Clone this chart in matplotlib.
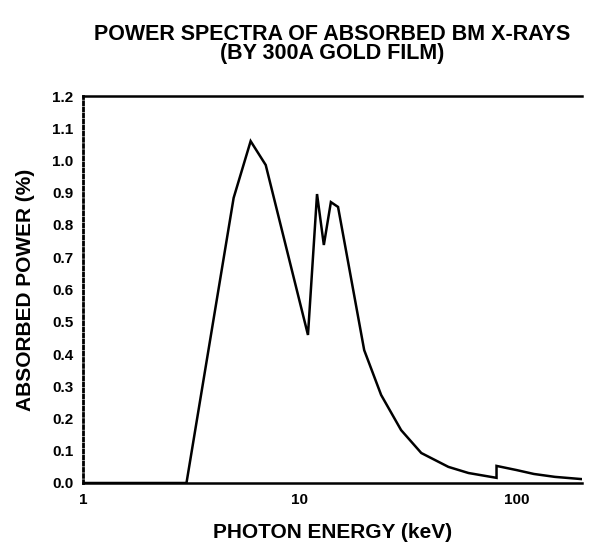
import matplotlib.pyplot as plt
import numpy as np

plt.rcParams['font.family'] = ['Liberation Sans', 'DejaVu Sans']

# photon energy (keV) and absorbed power (%)
energy = [1.0, 3.0, 4.95, 5.93, 6.96, 10.9, 12.0, 12.9, 13.9, 15.0, 19.8,
          23.7, 29.3, 36.3, 48.4, 59.9, 80.7, 80.7, 100.0, 120.0, 150.0, 200.0]
power = [0.0, 0.0, 0.884, 1.06, 0.986, 0.459, 0.896, 0.738, 0.871, 0.856, 0.412,
         0.273, 0.164, 0.093, 0.050, 0.031, 0.016, 0.053, 0.040, 0.028, 0.019, 0.012]

y_ticks = np.arange(0.0, 1.21, 0.1)
x_ticks = [1, 10, 100]
x_tick_labels = ['1', '10', '100']

fig = plt.figure(figsize=(5.96, 5.44), dpi=100)
ax = fig.add_axes([83 / 596, 1 - 483 / 544, 499 / 596, 387 / 544])

ax.plot(energy, power, color='black', lw=1.8, solid_joinstyle='miter')

ax.set_xscale('log')
ax.set_xlim(1, 200)
ax.set_ylim(0, 1.2)

ax.set_yticks(y_ticks)
ax.set_yticklabels(['%.1f' % v for v in y_ticks], fontsize=11, fontweight='bold')
ax.set_xticks(x_ticks)
ax.set_xticklabels(x_tick_labels, fontsize=11, fontweight='bold')
ax.minorticks_off()
ax.tick_params(axis='both', length=0, pad=7)

# spines: solid top/bottom, dotted left, none on the right
ax.spines['right'].set_visible(False)
ax.spines['left'].set_linestyle((0, (1, 1.2)))
ax.spines['left'].set_linewidth(2)
ax.spines['top'].set_linewidth(1.8)
ax.spines['bottom'].set_linewidth(1.8)

ax.set_ylabel('ABSORBED POWER (%)', fontsize=15, fontweight='bold', labelpad=12)
ax.set_xlabel('PHOTON ENERGY (keV)', fontsize=15, fontweight='bold', labelpad=12)

fig.text(0.558, 1 - 34 / 544, 'POWER SPECTRA OF ABSORBED BM X-RAYS',
         ha='center', va='center', fontsize=15.5, fontweight='bold')
fig.text(0.558, 1 - 54 / 544, '(BY 300A GOLD FILM)',
         ha='center', va='center', fontsize=15.5, fontweight='bold')

fig.savefig('out.png', dpi=100)
